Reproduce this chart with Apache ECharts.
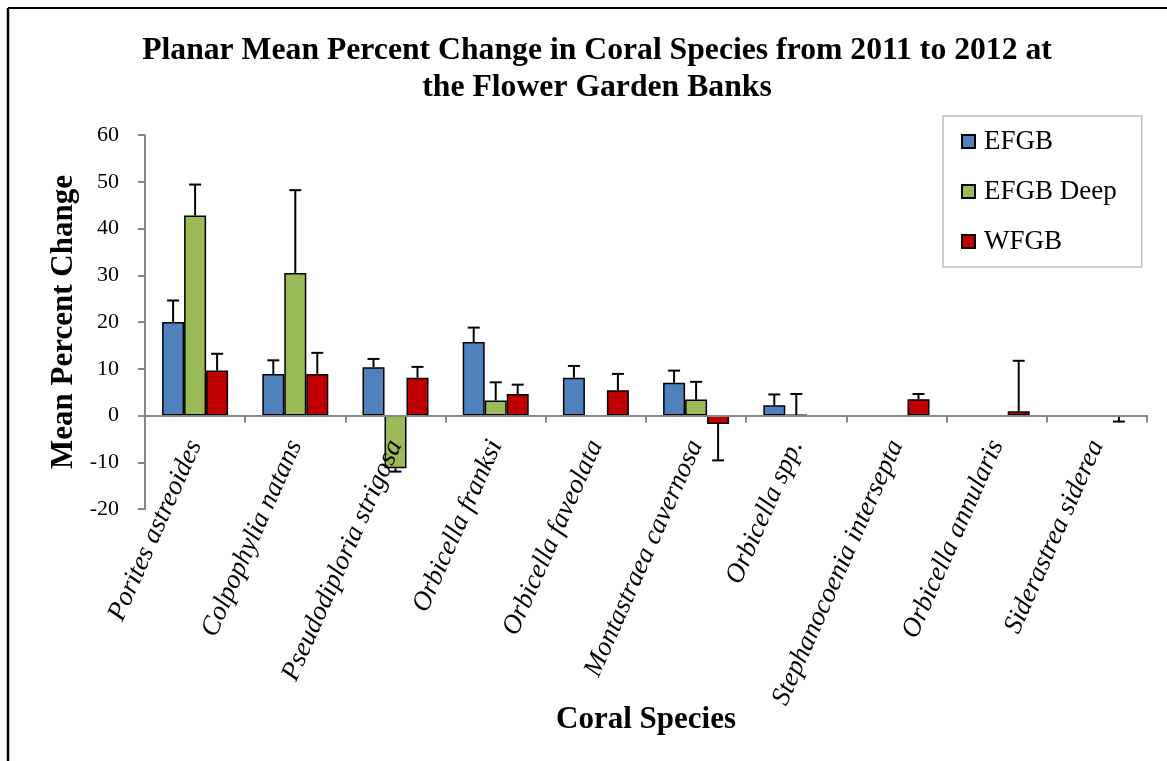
<!DOCTYPE html>
<html>
<head>
<meta charset="utf-8">
<script src="https://cdn.jsdelivr.net/npm/echarts@6/dist/echarts.min.js"></script>
<style>
  html, body { margin: 0; padding: 0; background: #ffffff; }
  #chart { width: 1167px; height: 761px; }
</style>
</head>
<body>
<div id="chart"></div>
<script>
// Coral species (x categories)
const species = [
  'Porites astreoides',
  'Colpophylia natans',
  'Pseudodiploria strigosa',
  'Orbicella franksi',
  'Orbicella faveolata',
  'Montastraea cavernosa',
  'Orbicella spp.',
  'Stephanocoenia intersepta',
  'Orbicella annularis',
  'Siderastrea siderea'
];

// Mean percent change per site
const efgb      = [20.0, 8.9, 10.3, 15.7, 8.1, 7.0, 2.2, null, null, null];
const efgbDeep  = [42.8, 30.5, -11.3, 3.2, null, 3.4, 0.1, null, null, null];
const wfgb      = [9.6, 8.9, 8.1, 4.6, 5.4, -1.8, null, 3.5, 0.9, -0.3];

// Standard error (drawn away from zero)
const efgbErr     = [4.6, 2.9, 1.8, 3.1, 2.5, 2.6, 2.3, null, null, null];
const efgbDeepErr = [6.6, 17.7, 0.7, 3.9, null, 3.8, 4.5, null, null, null];
const wfgbErr     = [3.6, 4.5, 2.3, 2.0, 3.5, 7.8, null, 1.1, 10.8, 1.0];

// Y axis ticks
const yTicks = { min: -20, max: 60, step: 10 };

const seriesNames = ['EFGB', 'EFGB Deep', 'WFGB'];
const colors = ['#4F81BD', '#9BBB59', '#C00000'];

const BAR_W = 22;
const SERIF = '"Liberation Serif", "Times New Roman", "DejaVu Serif", serif';

// plot area
const GRID = { left: 145, right: 20, top: 135, bottom: 252 };
const plotHeight = 761 - GRID.top - GRID.bottom;
// lift the category axis (line, ticks, labels) up to the zero line
const zeroOffset = -plotHeight * (0 - yTicks.min) / (yTicks.max - yTicks.min);

function errorSeries(values, errs, offset) {
  const data = values.map((v, i) => [i, v, errs[i]])
    .filter(d => d[1] !== null && d[2] !== null);
  return {
    type: 'custom',
    z: 4,
    silent: true,
    data: data,
    encode: { x: 0, y: 1 },
    renderItem: function (params, api) {
      const idx = api.value(0);
      const v = api.value(1);
      const e = api.value(2);
      const dir = v < 0 ? -1 : 1;
      const p0 = api.coord([idx, v]);
      const p1 = api.coord([idx, v + dir * e]);
      const x = p0[0] + offset;
      const style = { stroke: '#000', lineWidth: 2 };
      return {
        type: 'group',
        children: [
          { type: 'line', shape: { x1: x, y1: p0[1], x2: x, y2: p1[1] }, style: style },
          { type: 'line', shape: { x1: x - 6, y1: p1[1], x2: x + 6, y2: p1[1] }, style: style }
        ]
      };
    }
  };
}

function barSeries(name, values, color) {
  return {
    name: name,
    type: 'bar',
    data: values,
    barWidth: BAR_W,
    barGap: '0%',
    itemStyle: { color: color, borderColor: '#000', borderWidth: 1.5 },
    z: 2
  };
}

const chart = echarts.init(document.getElementById('chart'), null, { renderer: 'canvas' });

chart.setOption({
  backgroundColor: '#ffffff',
  animation: false,
  title: {
    text: 'Planar Mean Percent Change in Coral Species from 2011 to 2012 at\nthe Flower Garden Banks',
    left: 592,
    textAlign: 'center',
    top: 27,
    textStyle: {
      fontFamily: SERIF,
      fontWeight: 'bold',
      fontSize: 31.7,
      lineHeight: 37,
      color: '#000'
    }
  },
  legend: {
    orient: 'vertical',
    left: 943,
    top: 116,
    data: seriesNames,
    itemWidth: 13,
    itemHeight: 13,
    itemGap: 23,
    padding: [12, 25, 12, 18],
    borderColor: '#bfbfbf',
    borderWidth: 1.5,
    icon: 'rect',
    textStyle: {
      fontFamily: SERIF,
      fontSize: 27,
      lineHeight: 27,
      color: '#000',
      padding: [0, 0, 0, 4]
    }
  },
  grid: {
    left: GRID.left,
    right: GRID.right,
    top: GRID.top,
    bottom: GRID.bottom,
    outerBoundsMode: 'none',
    containLabel: false
  },
  xAxis: {
    type: 'category',
    data: species,
    z: 3,
    offset: zeroOffset,
    name: 'Coral Species',
    nameLocation: 'middle',
    nameGap: 289,
    nameMoveOverlap: false,
    nameTextStyle: {
      fontFamily: SERIF,
      fontWeight: 'bold',
      fontSize: 31,
      color: '#000'
    },
    axisLine: { onZero: false, lineStyle: { color: '#868686', width: 2 } },
    axisTick: { show: true, length: 7, lineStyle: { color: '#868686', width: 2 } },
    axisLabel: {
      interval: 0,
      rotate: 66,
      margin: 26,
      fontFamily: SERIF,
      fontStyle: 'italic',
      fontSize: 27,
      color: '#000'
    }
  },
  yAxis: {
    type: 'value',
    min: yTicks.min,
    max: yTicks.max,
    interval: yTicks.step,
    name: 'Mean Percent Change',
    nameLocation: 'middle',
    nameGap: 66,
    nameMoveOverlap: false,
    nameTextStyle: {
      fontFamily: SERIF,
      fontWeight: 'bold',
      fontSize: 31,
      color: '#000'
    },
    axisLine: { show: true, lineStyle: { color: '#868686', width: 2 } },
    axisTick: { show: true, length: 7, lineStyle: { color: '#868686', width: 2 } },
    splitLine: { show: false },
    axisLabel: {
      margin: 26,
      fontFamily: SERIF,
      fontSize: 22,
      color: '#000'
    }
  },
  graphic: [
    { type: 'line', shape: { x1: 8, y1: 8, x2: 1167, y2: 8 }, style: { stroke: '#000', lineWidth: 2 } },
    { type: 'line', shape: { x1: 8, y1: 8, x2: 8, y2: 761 }, style: { stroke: '#000', lineWidth: 2.5 } }
  ],
  series: [
    barSeries(seriesNames[0], efgb, colors[0]),
    barSeries(seriesNames[1], efgbDeep, colors[1]),
    barSeries(seriesNames[2], wfgb, colors[2]),
    errorSeries(efgb, efgbErr, -BAR_W),
    errorSeries(efgbDeep, efgbDeepErr, 0),
    errorSeries(wfgb, wfgbErr, BAR_W)
  ]
});
</script>
</body>
</html>
